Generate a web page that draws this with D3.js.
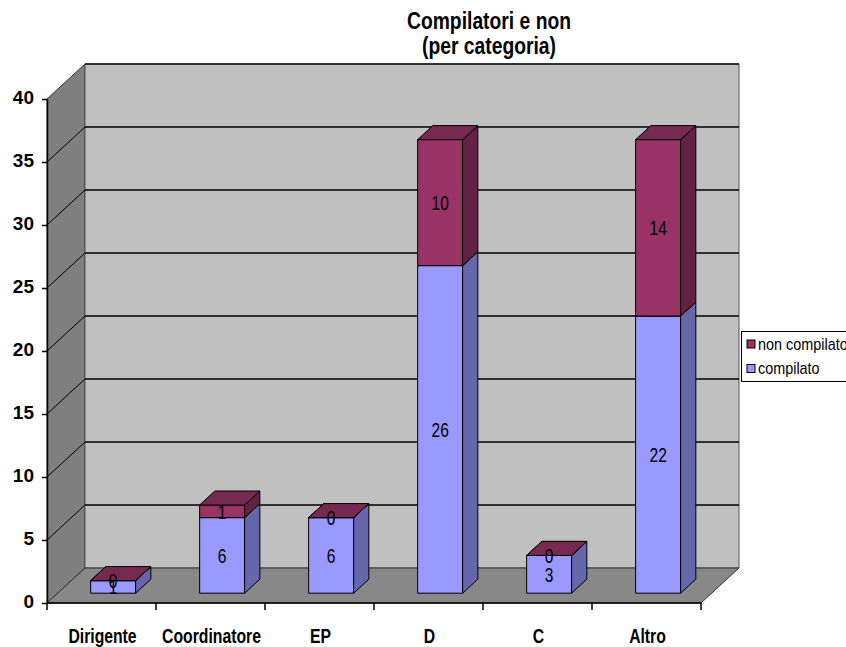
<!DOCTYPE html>
<html>
<head>
<meta charset="utf-8">
<script src="https://cdn.jsdelivr.net/npm/d3@7"></script>
<style>
  html, body { margin: 0; padding: 0; background: #fff; }
  svg { display: block; font-family: "Liberation Sans", Arial, sans-serif; }
</style>
</head>
<body>
<script>
// Compilatori e non, per categoria: 3D stacked columns
const categories = ["Dirigente", "Coordinatore", "EP", "D", "C", "Altro"];
const compilato = [1, 6, 6, 26, 3, 22];
const nonCompilato = [0, 1, 0, 10, 0, 14];
const yTicks = [0, 5, 10, 15, 20, 25, 30, 35, 40];
const seriesNames = ["non compilato", "compilato"];
const titleLines = ["Compilatori e non", "(per categoria)"];

const W = 846, H = 647;
const svg = d3.select("body").append("svg").attr("width", W).attr("height", H);

const y = d3.scaleLinear().domain([0, 40]).range([603, 99]);
const x = d3.scaleBand().domain(categories).range([47, 701]);
const [x0, x1] = x.range();
const [vMin, vMax] = y.domain();

// oblique depth projection: d = 0 front plane, d = 1 back wall
const DX = 38, DY = -35;
const P = (px, v, d) => [px + d * DX, y(v) + d * DY];
const poly = pts => "M" + pts.map(p => p.join(",")).join("L") + "Z";

const colors = {
  compilato: { front: "#9999ff", side: "#6666aa", top: "#a6a6ff" },
  non: { front: "#993366", side: "#642243", top: "#772a51" }
};

// walls and floor
const walls = svg.append("g");
walls.append("path")
  .attr("d", poly([P(x0, vMin, 0), P(x0, vMax, 0), P(x0, vMax, 1), P(x0, vMin, 1)]))
  .attr("fill", "#7f7f7f").attr("stroke", "#333").attr("stroke-width", 1);
walls.append("path")
  .attr("d", poly([P(x0, vMin, 1), P(x0, vMax, 1), P(x1, vMax, 1), P(x1, vMin, 1)]))
  .attr("fill", "#c0c0c0").attr("stroke", "#555").attr("stroke-width", 1);
walls.append("path")
  .attr("d", poly([P(x0, vMin, 0), P(x1, vMin, 0), P(x1, vMin, 1), P(x0, vMin, 1)]))
  .attr("fill", "#888888").attr("stroke", "#333").attr("stroke-width", 1);
// top edge of the back wall
walls.append("line")
  .attr("x1", P(x0, vMax, 1)[0]).attr("y1", P(x0, vMax, 1)[1])
  .attr("x2", P(x1, vMax, 1)[0]).attr("y2", P(x1, vMax, 1)[1])
  .attr("stroke", "#111").attr("stroke-width", 1.5);

// gridlines on back and side walls
const grid = svg.append("g").attr("stroke", "#000").attr("stroke-width", 1.4);
yTicks.filter(v => v > vMin && v < vMax).forEach(v => {
  const a = P(x0, v, 1), b = P(x1, v, 1), c = P(x0, v, 0);
  grid.append("line").attr("x1", a[0]).attr("y1", a[1]).attr("x2", b[0]).attr("y2", b[1]);
  grid.append("line").attr("x1", c[0]).attr("y1", c[1]).attr("x2", a[0]).attr("y2", a[1])
    .attr("stroke-width", 1);
});

// columns
const d0 = 0.28, d1 = 0.68, half = 22.5;
const barsG = svg.append("g").attr("stroke", "#000").attr("stroke-width", 1).attr("stroke-linejoin", "round");
const labels = [];
categories.forEach((cat, i) => {
  const cx = x(cat) + x.bandwidth() / 2 + 1;
  const xl = cx - half, xr = cx + half;
  const segs = [
    { lo: 0, hi: compilato[i], key: "compilato", val: compilato[i] },
    { lo: compilato[i], hi: compilato[i] + nonCompilato[i], key: "non", val: nonCompilato[i] }
  ];
  segs.forEach(s => {
    const c = colors[s.key];
    barsG.append("path").attr("fill", c.front)
      .attr("d", poly([P(xl, s.lo, d0), P(xr, s.lo, d0), P(xr, s.hi, d0), P(xl, s.hi, d0)]));
    barsG.append("path").attr("fill", c.side)
      .attr("d", poly([P(xr, s.lo, d0), P(xr, s.lo, d1), P(xr, s.hi, d1), P(xr, s.hi, d0)]));
    barsG.append("path").attr("fill", c.top)
      .attr("d", poly([P(xl, s.hi, d0), P(xr, s.hi, d0), P(xr, s.hi, d1), P(xl, s.hi, d1)]));
    labels.push({ x: cx + d0 * DX, y: (y(s.lo) + y(s.hi)) / 2 + d0 * DY, text: s.val });
  });
});

// value labels
const lab = svg.append("g");
labels.forEach(l => {
  lab.append("text")
    .attr("transform", `translate(${l.x},${l.y}) scale(0.74,1)`)
    .attr("text-anchor", "middle").attr("dy", "0.36em")
    .attr("font-size", 21).attr("fill", "#000")
    .text(l.text);
});

// value axis
const yAxis = svg.append("g").attr("transform", `translate(${x0},0)`)
  .call(d3.axisLeft(y).tickValues(yTicks).tickSize(5).tickSizeOuter(0).tickPadding(8));
yAxis.select(".domain").attr("stroke", "#000").attr("stroke-width", 1.5);
yAxis.selectAll(".tick line").attr("stroke", "#000").attr("stroke-width", 1.5);
yAxis.selectAll(".tick text")
  .attr("font-family", "Liberation Sans, Arial, sans-serif")
  .attr("font-size", 19).attr("font-weight", "bold").attr("fill", "#000")
  .attr("dy", "0.22em");

// category axis
const xAxis = svg.append("g");
xAxis.append("line").attr("x1", x0).attr("x2", x1).attr("y1", y(0)).attr("y2", y(0))
  .attr("stroke", "#000").attr("stroke-width", 1.5);
categories.map(c => x(c)).concat([x1]).forEach(px => {
  xAxis.append("line").attr("x1", px).attr("x2", px).attr("y1", y(0)).attr("y2", y(0) + 7)
    .attr("stroke", "#000").attr("stroke-width", 1.5);
});
categories.forEach(c => {
  xAxis.append("text")
    .attr("transform", `translate(${x(c) + x.bandwidth() / 2 + 1},643) scale(0.75,1)`)
    .attr("text-anchor", "middle").attr("font-size", 21).attr("font-weight", "bold")
    .attr("fill", "#000").text(c);
});

// title
titleLines.forEach((t, k) => {
  svg.append("text")
    .attr("transform", `translate(489,${29 + k * 24.5}) scale(0.84,1)`)
    .attr("text-anchor", "middle").attr("font-size", 23).attr("font-weight", "bold")
    .attr("fill", "#000").text(t);
});

// legend
const leg = svg.append("g");
leg.append("rect").attr("x", 741.5).attr("y", 331.5).attr("width", 130).attr("height", 50)
  .attr("fill", "#fff").attr("stroke", "#000").attr("stroke-width", 1);
const legColors = [colors.non.front, colors.compilato.front];
seriesNames.forEach((name, k) => {
  const yy = 344 + k * 24.5;
  leg.append("rect").attr("x", 747).attr("y", yy - 4).attr("width", 8).attr("height", 8)
    .attr("fill", legColors[k]).attr("stroke", "#000").attr("stroke-width", 1);
  leg.append("text")
    .attr("transform", `translate(758,${yy}) scale(0.9,1)`)
    .attr("dy", "0.35em").attr("font-size", 16).attr("fill", "#000").text(name);
});
</script>
</body>
</html>
